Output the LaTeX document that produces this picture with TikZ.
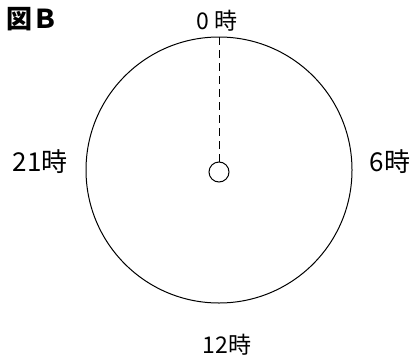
\documentclass[tikz,border=0pt]{standalone}
\usepackage{fontspec}
\newfontfamily\jp{Noto Sans CJK JP}
\begin{document}
\begin{tikzpicture}[x=1pt,y=-1pt,
  lbl/.style={font=\jp\fontsize{26}{30}\selectfont, inner sep=0pt},
  lblsm/.style={font=\jp\fontsize{23}{27}\selectfont, inner sep=0pt},
  line/.style={line width=1pt, black}]
\useasboundingbox (0,0) rectangle (414,356);
\coordinate (c) at (219,170);
\draw[line] (c) circle (133);
\coordinate (top) at (219,37);
\node[draw, line, circle, minimum size=20pt, inner sep=0pt] (hub) at (219,172) {};
\draw[line, dash pattern=on 8pt off 5pt] (top) -- (hub.north);
\node[font=\jp\bfseries\fontsize{26}{30}\selectfont, inner sep=0pt, anchor=west] (title) at (6,19) {図Ｂ};
\node[lblsm] (l0) at (217,21) {0 時};
\node[lbl] (l21) at (40,162) {21時};
\node[lbl] (l6) at (390,162) {6時};
\node[lblsm] (l12) at (227,345) {12時};
\end{tikzpicture}
\end{document}
